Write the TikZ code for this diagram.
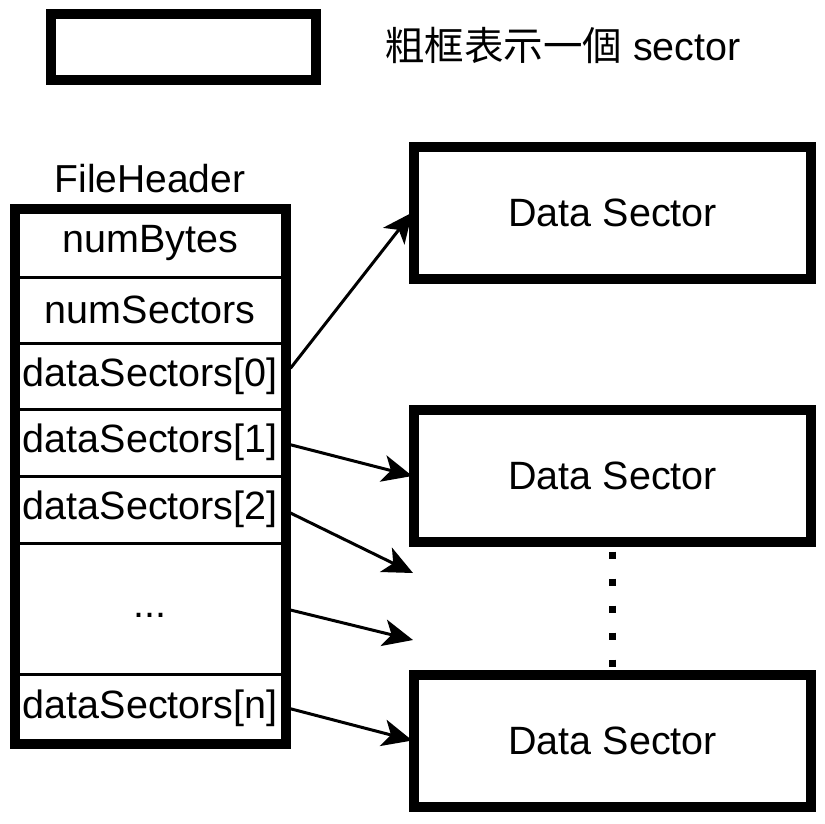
\documentclass[tikz,border=0pt]{standalone}
\usepackage{fontspec}
\setmainfont{Liberation Sans}
\newfontfamily\cjk{Noto Sans CJK TC}
\usetikzlibrary{arrows.meta}
\begin{document}
\begin{tikzpicture}[x=1pt,y=-1pt,
  base/.style={font=\fontsize{39.5}{47}\selectfont},
  thickbox/.style={draw, line width=10pt, inner sep=0pt, outer sep=0pt},
  sectorbox/.style={thickbox, outer sep=2pt, minimum width=396.7pt, minimum height=132pt, base},
  rowbox/.style={draw, line width=3pt, inner sep=0pt, outer sep=0pt, minimum width=270.5pt, base},
  txt/.style={inner sep=0pt, base},
  ptr/.style={line width=3pt, -{Stealth[length=30pt,width=27pt,inset=8pt]}}
]
\useasboundingbox (0,0) rectangle (825,823);
% legend
\node[thickbox, minimum width=265pt, minimum height=66pt] (leg) at (183.5,47) {};
\node[txt, anchor=west] (legtxt) at (385,45) {{\cjk 粗框表示一個} sector};
% file header
\node[txt, font=\fontsize{39}{47}\selectfont] (fhlabel) at (150,179) {FileHeader};
\node[rowbox, minimum height=68pt]   (rnb) at (150.25,243)    {numBytes};
\node[rowbox, minimum height=66pt]   (rns) at (150.25,310)    {numSectors};
\node[rowbox, minimum height=66.5pt] (r0)  at (150.25,376.25) {dataSectors[0]};
\node[rowbox, minimum height=66.5pt] (r1)  at (150.25,442.75) {dataSectors[1]};
\node[rowbox, minimum height=67pt]   (r2)  at (150.25,509.5)  {dataSectors[2]};
\node[rowbox, minimum height=131pt]  (rd)  at (150.25,608.5)  {};
\node[txt] (rdt) at ([yshift=-7pt]rd.center) {...};
\node[rowbox, minimum height=69.5pt] (rn)  at (150.25,708.75) {dataSectors[n]};
\node[thickbox, minimum width=270.5pt, minimum height=534.5pt] (fh) at (150.25,476.25) {};
% data sectors
\node[sectorbox] (b1) at (612.65,212.5) {Data Sector};
\node[sectorbox] (b2) at (612.65,476) {Data Sector};
\node[sectorbox] (b3) at (612.65,740.5) {Data Sector};
% dots
\draw[line width=7pt, dash pattern=on 7pt off 20pt, dash phase=19.5pt]
  (b2.south) -- (b3.north);
% free ends
\coordinate (e2) at (413,573);
\coordinate (e3) at (413,640);
% pointers
\draw[ptr] ([xshift=5pt,yshift=8pt]r0.east) -- (b1.west);
\draw[ptr] ([xshift=5pt,yshift=-2pt]r1.east) -- (b2.west);
\draw[ptr] ([xshift=5pt,yshift=-3.5pt]r2.east) -- (e2);
\draw[ptr] ([xshift=5pt,yshift=-1.5pt]rd.east) -- (e3);
\draw[ptr] ([xshift=5pt]rn.east) -- (b3.west);
\end{tikzpicture}
\end{document}
